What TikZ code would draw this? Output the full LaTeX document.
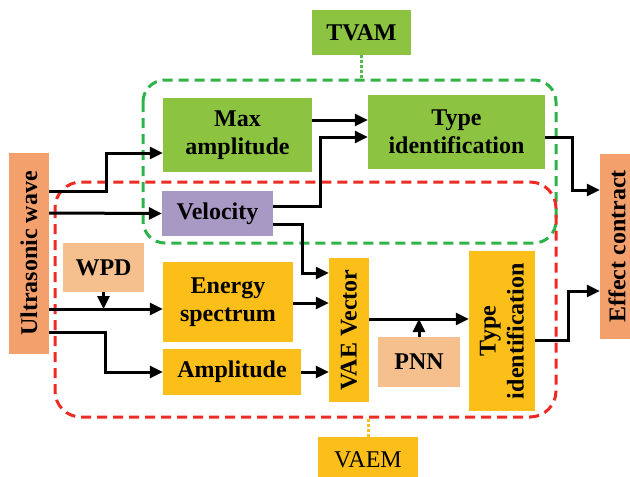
\documentclass[tikz,border=0pt]{standalone}
\usepackage{fontspec}
\setmainfont{Liberation Serif}
\usepackage{tikz}
\usetikzlibrary{calc,positioning,shapes}
\usetikzlibrary{arrows.meta}
\tikzset{>={Triangle[width=12pt,length=13pt]}}
\definecolor{tgreen}{HTML}{8CC442}
\definecolor{vpurple}{HTML}{A898C4}
\definecolor{worange}{HTML}{F6C08E}
\definecolor{uorange}{HTML}{F4A06C}
\definecolor{vyellow}{HTML}{FCBF1A}
\definecolor{dgreen}{HTML}{2DB34A}
\definecolor{dred}{HTML}{EE2A24}

\begin{document}
\begin{tikzpicture}[x=1pt, y=-1pt]
      %%%%%%%%%%%%%%%%%%%%%%%%%%%%%%%%%%%%%%%%%%%%%%%%%%
      %% TVAM and VAEM
      %%%%%%%%%%%%%%%%%%%%%%%%%%%%%%%%%%%%%%%%%%%%%%%%%%
      \tikzstyle{bnode} = [rectangle, inner sep = 0pt, align=center, font=\fontsize{24}{28}\selectfont\bfseries]
      \tikzstyle{gdash} = [draw=dgreen, line width=3pt, dash pattern=on 10pt off 6pt, rounded corners = 22pt]
      \tikzstyle{rdash} = [draw=dred, line width=3pt, dash pattern=on 10pt off 6pt, rounded corners = 26pt]
      \tikzstyle{link} = [->, line width=3pt]
      \useasboundingbox (0,0) rectangle (630,477);
      \draw[gdash] (143,80) rectangle (556,243);
      \draw[rdash] (55,182) rectangle (556,417);

      \node[bnode, fill=uorange, minimum width=201pt, minimum height=40pt, rotate=90] (wave) at (29,253.5) {Ultrasonic wave};
      \node[bnode, fill=uorange, minimum width=185pt, minimum height=34pt, rotate=90] (contract) at (617,246.5) {Effect contract};
      \node[bnode, fill=tgreen, minimum width=99pt, minimum height=45pt] (tvam) at (361.5,32.5) {TVAM};
      \node[bnode, fill=tgreen, minimum width=149pt, minimum height=74pt] (maxamp) at (237.5,135) {Max\\amplitude};
      \node[bnode, fill=tgreen, minimum width=177pt, minimum height=74pt] (typeg) at (456.5,132) {Type\\identification};
      \node[bnode, fill=vpurple, minimum width=111pt, minimum height=45pt] (velo) at (217.5,213.5) {Velocity};
      \node[bnode, fill=worange, minimum width=81pt, minimum height=49pt] (wpd) at (103.5,267.5) {WPD};
      \node[bnode, fill=vyellow, minimum width=130pt, minimum height=80pt] (energy) at (228,302) {Energy\\spectrum};
      \node[bnode, fill=vyellow, minimum width=138pt, minimum height=46pt] (ampl) at (232,372) {Amplitude};
      \node[bnode, fill=vyellow, minimum width=144pt, minimum height=40pt, rotate=90] (vae) at (349,330) {VAE Vector};
      \node[bnode, fill=worange, minimum width=82pt, minimum height=50pt] (pnn) at (419,362) {PNN};
      \node[bnode, fill=vyellow, minimum width=160pt, minimum height=66pt, rotate=90] (typey) at (502,331) {Type\\identification};
      \node[bnode, fill=vyellow, minimum width=100pt, minimum height=45pt, font=\fontsize{24}{28}\selectfont] (vaem) at (368,459.5) {VAEM};

      \draw[dgreen!60!tgreen, line width=3pt, dotted] (tvam.south) -- (tvam.south |- 0,80);
      \draw[vyellow, line width=3pt, dotted] (vaem.north) -- (vaem.north |- 0,417);

      \draw[link] (wave.south |- 0,191) -| (106,153) -- (maxamp.west |- 0,153);
      \draw[link] (wave.south |- 0,213) -- (velo.west);
      \draw[link] (wave.south |- 0,309) -- (energy.west |- 0,309);
      \draw[link] (wpd.south) -- (wpd.south |- 0,309);
      \draw[link] (wave.south |- 0,332) -| (105,372) -- (ampl.west);
      \draw[link] (maxamp.east |- 0,120) -- (typeg.west |- 0,120);
      \draw[link] (velo.east |- 0,206) -| (320,137) -- (typeg.west |- 0,137);
      \draw[link] (velo.east |- 0,224) -| (302,273) -- (vae.north |- 0,273);
      \draw[link] (energy.east |- 0,303) -- (vae.north |- 0,303);
      \draw[link] (ampl.east) -- (vae.north |- ampl.east);
      \draw[link] (vae.south |- 0,319) -- (typey.north |- 0,319);
      \draw[link] (pnn.north) -- (pnn.north |- 0,319);
      \draw[link] (typey.south |- 0,340) -| (568,291) -- (contract.north |- 0,291);
      \draw[link] (typeg.east |- 0,137) -| (572,190) -- (contract.north |- 0,190);
\end{tikzpicture}
\end{document}
